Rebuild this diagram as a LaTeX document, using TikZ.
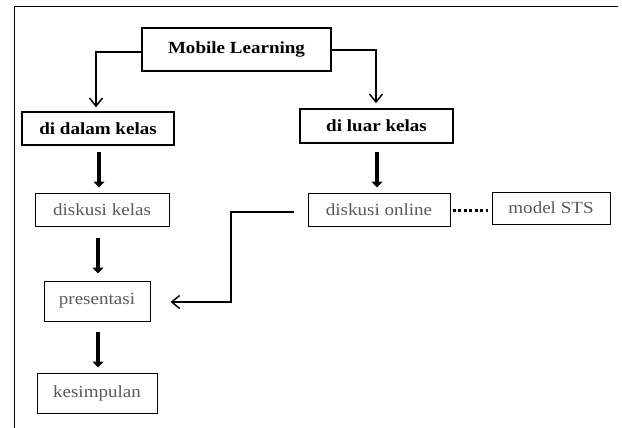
\documentclass[tikz,border=0pt]{standalone}
\usepackage{fontspec}
\usepackage{graphicx}
\setmainfont{Liberation Serif}
\usetikzlibrary{arrows.meta}
\newcommand{\wtxt}[1]{\scalebox{1.12}[1]{#1}}
\tikzset{
  box/.style={draw=black, rectangle, inner sep=0pt, font=\fontsize{17}{20}\selectfont, text=black!65},
  topbox/.style={box, font=\fontsize{17}{20}\selectfont\bfseries, text=black},
  openarrow/.style={line width=1.5pt, -{Straight Barb[length=8pt,width=13pt,line width=1.5pt]}},
  thickarrow/.style={line width=3.5pt, -{Triangle[length=6pt,width=11pt]}},
}
\begin{document}
\begin{tikzpicture}[x=1pt,y=-1pt]
\useasboundingbox (0,0) rectangle (622,428);
% frame
\draw[line width=1pt] (618,7) -- (14,7) -- (14,428);
% boxes
\node[topbox, line width=2pt, minimum width=189pt, minimum height=43pt] (ml) at (236.5,49.5) {\wtxt{Mobile Learning}};
\node[topbox, line width=1.5pt, minimum width=152pt, minimum height=33pt] (dalam) at (98,128.5) {\wtxt{di dalam kelas}};
\node[topbox, line width=1.5pt, minimum width=153pt, minimum height=34pt] (luar) at (376.5,126) {\wtxt{di luar kelas}};
\node[box, line width=1pt, minimum width=134pt, minimum height=33pt] (dkelas) at (102,209.5) {\wtxt{diskusi kelas}};
\node[box, line width=1pt, minimum width=142pt, minimum height=33pt] (donline) at (379,209.5) {\wtxt{diskusi online}};
\node[box, line width=1pt, minimum width=118pt, minimum height=32pt] (sts) at (551,208) {\wtxt{model STS}};
\node[box, line width=1pt, minimum width=106pt, minimum height=40pt] (pres) at (97,301) {\wtxt{presentasi}};
\node[box, line width=1pt, minimum width=120pt, minimum height=40pt] (kes) at (97,393) {\wtxt{kesimpulan}};
% connectors
\coordinate (a1) at (96,52);
\coordinate (a2) at (376,50);
\draw[openarrow, shorten >=4pt] (ml.west |- a1) -- (a1) -- (a1 |- dalam.north);
\draw[openarrow, shorten >=5pt] (ml.east |- a2) -- (a2) -- (a2 |- luar.north);
\draw[thickarrow, shorten <=6pt, shorten >=5pt] (99,0 |- dalam.south) -- (99,0 |- dkelas.north);
\draw[thickarrow, shorten <=8pt, shorten >=5pt] (377,0 |- luar.south) -- (377,0 |- donline.north);
\draw[thickarrow, shorten <=11pt, shorten >=7pt] (98,0 |- dkelas.south) -- (98,0 |- pres.north);
\draw[thickarrow, shorten <=10pt, shorten >=5pt] (98,0 |- pres.south) -- (98,0 |- kes.north);
\coordinate (b1) at (231,212);
\coordinate (b2) at (231,302);
\draw[openarrow, shorten <=14pt, shorten >=20pt] (donline.west |- b1) -- (b1) -- (b2) -- (pres.east |- b2);
\draw[line width=3pt, dash pattern=on 3pt off 2.5pt, shorten <=2pt, shorten >=4pt] (donline.east |- 0,210) -- (sts.west |- 0,210);
\end{tikzpicture}
\end{document}
